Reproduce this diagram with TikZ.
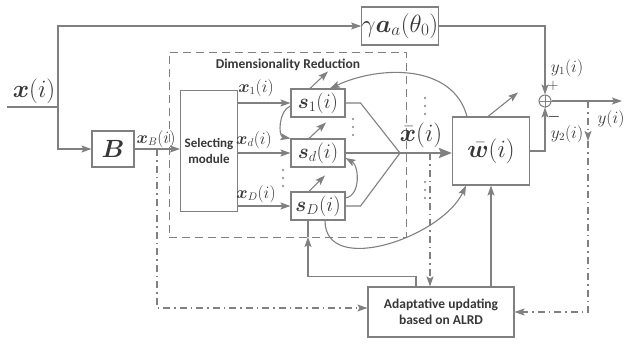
\documentclass[tikz,border=0pt]{standalone}
\usepackage{fontspec}
\setsansfont{Carlito}
\usepackage{bm}
\usetikzlibrary{arrows.meta, positioning, calc}
\definecolor{linegray}{RGB}{128,128,128}
\definecolor{textgray}{RGB}{55,55,55}

\begin{document}
\begin{tikzpicture}[
    x=1pt, y=-1pt,
    line width=1.1pt, color=linegray, text=textgray,
    block/.style={
        draw=linegray, line width=1.1pt, inner sep=0pt, align=center
    },
    sbox/.style={
        block, minimum width=54pt, minimum height=28pt,
        font=\fontsize{22}{25}\selectfont
    },
    dimbox/.style={
        draw=linegray, line width=1pt, dash pattern=on 8pt off 5pt,
        minimum width=237pt, minimum height=185pt, inner sep=0pt
    },
    sumnode/.style={
        circle, draw=linegray, line width=1pt, minimum size=12pt, inner sep=0pt
    },
    arrow/.style={
        -{Stealth[length=10pt, width=7pt, inset=2pt]}
    },
    bigarrow/.style={
        -{Stealth[length=13pt, width=10pt, inset=2pt]}, line width=2.4pt
    },
    dashdot/.style={
        dash pattern=on 7pt off 4pt on 1.5pt off 4pt
    },
    sflabel/.style={
        font=\sffamily\bfseries\fontsize{13.5}{15}\selectfont, align=center
    },
    mathlabel/.style={
        font=\fontsize{16}{18}\selectfont, inner sep=1pt
    },
    biglabel/.style={
        font=\fontsize{24}{27}\selectfont, inner sep=1pt
    }
]
\useasboundingbox (0,0) rectangle (630,346);

% --- blocks ---
\node[block, minimum width=76pt, minimum height=38pt,
      font=\fontsize{23}{26}\selectfont] (gam) at (400,26) {$\gamma\bm{a}_a(\theta_0)$};
\node[block, minimum width=42pt, minimum height=36pt,
      font=\fontsize{25}{28}\selectfont] (B) at (113,149) {$\bm{B}$};
\node[dimbox] (dr) at (287.5,144.5) {};
\node[sflabel] (drlabel) at (288,65) {Dimensionality Reduction};
\node[block, minimum width=57pt, minimum height=121pt,
      font=\sffamily\bfseries\fontsize{13}{16}\selectfont] (sel) at (209,151) {Selecting\\module};
\node[sbox] (s1) at (318,103) {$\bm{s}_1(i)$};
\node[sbox] (sd) at (318,153) {$\bm{s}_d(i)$};
\node[sbox] (sD) at (318,206) {$\bm{s}_D(i)$};
\node[block, minimum width=77pt, minimum height=68pt,
      font=\fontsize{24}{27}\selectfont] (w) at (491,151) {$\bar{\bm{w}}(i)$};
\node[block, minimum width=146pt, minimum height=50pt,
      font=\sffamily\bfseries\fontsize{13.5}{16}\selectfont] (ad) at (441,312)
      {Adaptative updating\\based on ALRD};
\node[sumnode] (sum) at (545,101) {};
\draw[line width=1pt] (sum.north) -- (sum.south) (sum.west) -- (sum.east);

% --- junctions ---
\coordinate (in) at (7,107);
\coordinate (jx) at (58,107);
\coordinate (jb) at (157,149);
\coordinate (cm) at (400,153);
\coordinate (jxb) at (430,153);
\coordinate (fb) at (308,237);
\coordinate (out) at (622,101);
\coordinate (jy) at (588,101);
\coordinate (ym) at (588,141);

% --- input paths ---
\draw (in) -- (jx);
\node[biglabel] (xlabel) at (34,91) {$\bm{x}(i)$};
\draw[arrow] (jx) |- (gam.west);
\draw[arrow] (jx) |- (B.west);
\draw[arrow] (B.east) -- (B.east -| sel.west);
\node[mathlabel] (xblabel) at (156,139) {$\bm{x}_B(i)$};

% --- selecting module to the s blocks ---
\draw[arrow] (sel.east |- s1) -- (s1.west);
\draw[arrow] (sel.east |- sd) -- (sd.west);
\draw[arrow] (sel.east |- sD) -- (sD.west);
\node[mathlabel] (x1label) at (256,88) {$\bm{x}_1(i)$};
\node[mathlabel] (xdlabel) at (254,140) {$\bm{x}_d(i)$};
\node[mathlabel] (xDlabel) at (256,194) {$\bm{x}_D(i)$};

% small tuning arrows on the s blocks
\draw[arrow] ([xshift=-8pt]s1.north) -- ++(18,-17);
\draw[arrow] ([xshift=-9pt]sd.north) -- ++(17,-16);
\draw[arrow] ([xshift=-9pt]sD.north) -- ++(16,-16);

% couplings between the s blocks
\draw[arrow] ([yshift=-3pt]s1.west) to[out=200, in=170] (sd.north west);
\draw[arrow] ([yshift=8pt]sD.east) to[out=10, in=-30] ([yshift=-5pt]sd.east);

% dots
\foreach \dx/\dy in {353/119, 283/170, 425/98, 425/182}
  \foreach \k in {0,1,2}
    \fill (\dx,\dy+8*\k) circle (1.1pt);

% --- combining into x bar ---
\draw (s1.east) -- ++(15,0) -- (cm);
\draw (sd.east) -- (cm);
\draw (sD.east) -- ++(15,0) -- (cm);
\draw[bigarrow] (cm) -- (w.west |- cm);
\node[biglabel] (xbarlabel) at (421,135) {$\bar{\bm{x}}(i)$};

% --- w block outputs ---
\draw[arrow] ([xshift=-3pt]w.north) -- ++(30,-24);
\draw[arrow] ([xshift=-24pt]w.north) to[out=105, in=25] ([xshift=12pt]s1.north);
\draw[arrow] ([xshift=7pt]sD.south) to[out=-90, in=-115] ([xshift=-25pt]w.south);

% --- adaptive updating ---
\draw[arrow] (w.south |- ad.north) -- (w.south);
\draw[arrow] ([xshift=-25pt]ad.north) -- ++(0,-10) -| (fb);
\draw (fb) -- (fb |- sD.south);
\draw[arrow, dashdot] (jb) |- ([yshift=4pt]ad.west);
\draw[arrow, dashdot] (jxb) -- (jxb |- ad.north);

% --- sum and output ---
\draw[arrow] (gam.east) -| (sum.north);
\draw[arrow] (w.east) -| (sum.south);
\draw[arrow] (sum.east) -- (out);
\draw[arrow, dashdot] (jy) -- (ym);
\draw[arrow, dashdot] (ym) |- (ad.east);
\node[mathlabel] (y1label) at (567,68) {$y_1(i)$};
\node[mathlabel] (y2label) at (567,134) {$y_2(i)$};
\node[mathlabel] (ylabel) at (611,119) {$y(i)$};
\node[font=\bfseries\fontsize{15}{17}\selectfont] (plus) at (553,86) {$+$};
\node[font=\bfseries\fontsize{15}{17}\selectfont] (minus) at (554,117) {$\bm{-}$};

\end{tikzpicture}
\end{document}
